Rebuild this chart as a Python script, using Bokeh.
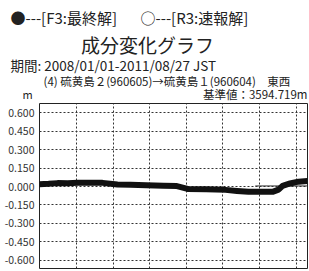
from datetime import datetime
from bokeh.plotting import figure
from bokeh.layouts import column
from bokeh.models import Range1d, FixedTicker
from bokeh.core.properties import value
from bokeh.embed import file_html
from bokeh.resources import INLINE

# ---- data ----
f3_dates = ["2008-01-01", "2008-02-15", "2008-03-31", "2008-05-20", "2008-07-10",
            "2008-09-11", "2008-11-10", "2009-01-23", "2009-03-29", "2009-06-15",
            "2009-09-09", "2009-11-15", "2010-01-07", "2010-04-10", "2010-07-15",
            "2010-09-10", "2010-11-06", "2011-01-10", "2011-03-06", "2011-04-05",
            "2011-04-25", "2011-06-01", "2011-07-13", "2011-08-27"]
f3_values = [0.018, 0.022, 0.028, 0.027, 0.030, 0.030, 0.030, 0.016, 0.014, 0.010,
             0.006, 0.004, -0.019, -0.022, -0.027, -0.036, -0.043, -0.043, -0.043,
             -0.025, 0.006, 0.025, 0.040, 0.046]
r3_dates = ["2010-12-10", "2011-08-27"]
r3_values = [0.005, 0.005]

y_ticks = [-0.6, -0.45, -0.3, -0.15, 0.0, 0.15, 0.3, 0.45, 0.6]
y_tick_labels = ["-0.600", "-0.450", "-0.300", "-0.150", "0.000",
                 "0.150", "0.300", "0.450", "0.600"]
x_grid_dates = ["2008-07-01", "2009-01-01", "2009-07-01", "2010-01-01",
                "2010-07-01", "2011-01-01", "2011-07-01"]
period_start = "2008-01-01"
period_end = "2011-08-27"

legend_f3 = "●---[F3:最終解]"
legend_r3 = "○---[R3:速報解]"
title_text = "成分変化グラフ"
period_text = "期間: 2008/01/01-2011/08/27 JST"
baseline_text = "(4) 硫黄島２(960605)→硫黄島１(960604)　東西"
unit_text = "m"
ref_text = "基準値：3594.719m"


def d(s):
    return datetime.strptime(s, "%Y-%m-%d")


def ms(s):
    return (d(s) - datetime(1970, 1, 1)).total_seconds() * 1000.0


W = 309
HH = 102    # header height
PH = 169    # plot figure height
FONT = "Noto Sans CJK JP"

# ---- header (texts) ----
hdr = figure(width=W, height=HH, output_backend="svg", toolbar_location=None,
             x_range=Range1d(0, W), y_range=Range1d(HH, 0),
             min_border=0, frame_align=False)
hdr.axis.visible = False
hdr.grid.visible = False
hdr.outline_line_color = None
hdr.background_fill_color = "white"
hdr.border_fill_color = "white"


def lab(text, x, y, size, align="left"):
    hdr.text(x=[x], y=[y], text=[text], text_font=value(FONT),
             text_font_size=size, text_align=align, text_baseline="middle",
             text_color="#222222")


lab(legend_f3, 10, 17, "15px")
lab(legend_r3, 140, 17, "15px")
lab(title_text, 147, 44, "19px", align="center")
lab(period_text, 10, 64, "13.5px")
lab(baseline_text, 43, 80, "11.5px")
lab(unit_text, 22, 93.5, "11px")
lab(ref_text, 307, 93.5, "11.5px", align="right")

# ---- plot ----
p = figure(width=W, height=PH, output_backend="svg", toolbar_location=None,
           x_axis_type="datetime",
           x_range=Range1d(d(period_start), d(period_end)),
           y_range=Range1d(-0.668, 0.677),
           min_border_left=39, min_border_right=2, min_border_top=1,
           min_border_bottom=3, frame_align=False)

p.outline_line_color = "#222222"
p.outline_line_width = 1
p.background_fill_color = "white"
p.border_fill_color = "white"

p.xaxis.visible = False
p.xgrid.ticker = FixedTicker(ticks=[ms(s) for s in x_grid_dates])
p.xgrid.grid_line_color = "#333333"
p.xgrid.grid_line_dash = "2 2"
p.xgrid.grid_line_width = 1

yax = p.yaxis[0]
yax.ticker = FixedTicker(ticks=y_ticks)
yax.major_label_overrides = {t: l for t, l in zip(y_ticks, y_tick_labels)}
yax.axis_line_color = None
yax.major_tick_line_color = None
yax.minor_tick_line_color = None
yax.major_tick_out = 0
yax.major_tick_in = 0
yax.minor_tick_out = 0
yax.minor_tick_in = 0
yax.major_label_text_font = FONT
yax.major_label_text_font_size = "10.5px"
yax.major_label_text_color = "#333333"
yax.major_label_standoff = 5
p.ygrid.ticker = FixedTicker(ticks=y_ticks)
p.ygrid.grid_line_color = "#333333"
p.ygrid.grid_line_dash = "2 2"
p.ygrid.grid_line_width = 1

p.line([d(s) for s in r3_dates], r3_values, line_color="#333333", line_width=1)
p.line([d(s) for s in f3_dates], f3_values, line_color="#111111", line_width=6,
       line_join="round", line_cap="round")

layout = column(hdr, p, spacing=0)
open("out.html", "w").write(file_html(layout, INLINE))
